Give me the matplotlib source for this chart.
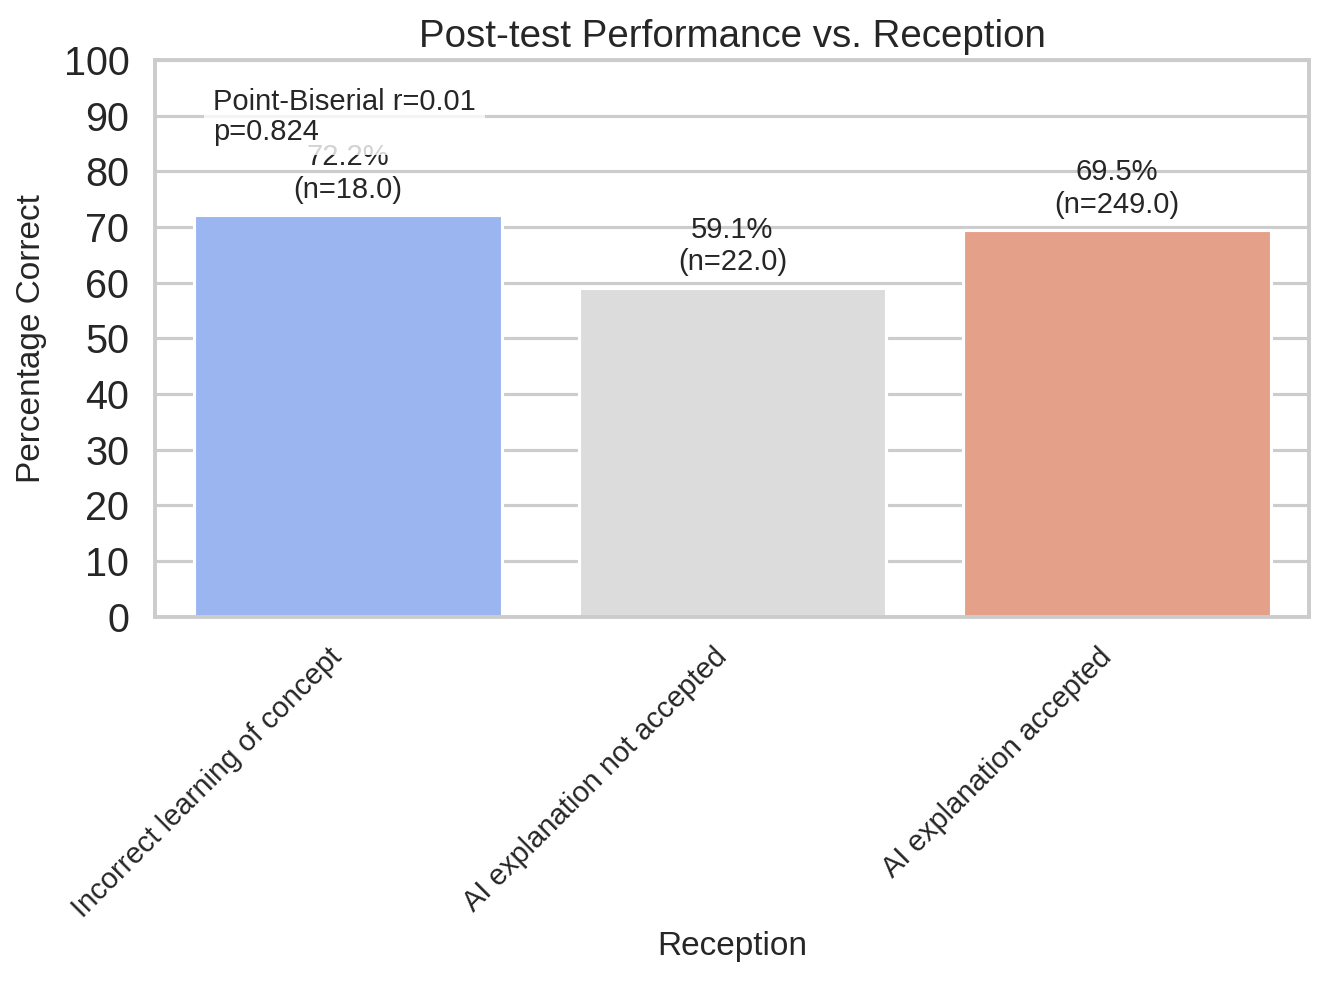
import matplotlib
matplotlib.use("Agg")
import matplotlib.pyplot as plt
import seaborn as sns

categories = ["Incorrect learning of concept", "AI explanation not accepted", "AI explanation accepted"]
pct_correct = [72.2, 59.1, 69.5]
counts = [18.0, 22.0, 249.0]
r_value = 0.01
p_value = 0.824

sns.set_theme(style="whitegrid", context="talk")
plt.rcParams['font.family'] = ['Liberation Sans', 'DejaVu Sans']

fig, ax = plt.subplots(figsize=(1328 / 150, 982 / 150), dpi=150)
colors = [sns.desaturate(c, 0.75) for c in sns.color_palette("coolwarm", len(categories))]
ax.bar(range(len(categories)), pct_correct, width=0.8, color=colors)
ax.set_xlim(-0.5, len(categories) - 0.5)
ax.set_ylim(0, 100)
ax.set_yticks(range(0, 101, 10))
ax.set_axisbelow(True)

for i, (v, n) in enumerate(zip(pct_correct, counts)):
    ax.text(i, v + 2, f"{v:.1f}%\n(n={n:.1f})", ha="center", va="bottom", fontsize=14, color="#262626")

ax.text(0.05, 0.95, f"Point-Biserial r={r_value:.2f}\np={p_value:.3f}", transform=ax.transAxes,
        ha="left", va="top", fontsize=14, color="#262626", linespacing=1.1,
        bbox=dict(boxstyle="square,pad=0.3", facecolor="white", edgecolor="none", alpha=0.8))

ax.set_xticks(range(len(categories)))
ax.set_xticklabels(categories, rotation=45, ha="right", fontsize=14)
ax.tick_params(axis="y", labelsize=19)
ax.set_xlabel("Reception", fontsize=16)
ax.set_ylabel("Percentage Correct", fontsize=16, labelpad=8)
ax.set_title("Post-test Performance vs. Reception", fontsize=18.5)
ax.grid(axis="x", visible=False)

fig.subplots_adjust(left=0.117, right=0.986, top=0.939, bottom=0.372)
fig.savefig("out.png", dpi=150)
